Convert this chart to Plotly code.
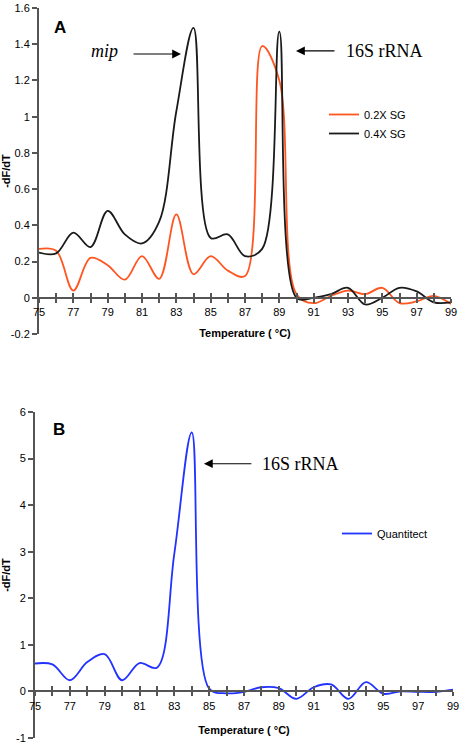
import plotly.graph_objects as go

# ---------------- data ----------------
temps = list(range(75, 100))
sg_02 = [0.27, 0.26, 0.04, 0.22, 0.18, 0.10, 0.23, 0.105, 0.46, 0.13, 0.23, 0.15, 0.12,
         1.39, 1.20, 0.02, -0.03, 0.01, 0.04, 0.02, 0.055, -0.03, -0.02, 0.01, -0.035]
sg_04 = [0.25, 0.245, 0.36, 0.28, 0.48, 0.35, 0.30, 0.42, 1.03, 1.49, 0.33, 0.35, 0.23,
         0.27, 1.47, 0.0, 0.0, 0.02, 0.055, -0.037, 0.0, 0.055, 0.035, -0.025, -0.025]
quantitect = [0.60, 0.58, 0.24, 0.63, 0.80, 0.24, 0.61, 0.51, 2.96, 5.56, 0.06, -0.04, -0.01,
              0.09, 0.07, -0.16, 0.09, 0.15, -0.16, 0.20, -0.05, 0.0, -0.01, -0.01, 0.04]

x_tickvals = list(range(75, 100))
x_ticktext = [str(t) if (t - 75) % 2 == 0 else "" for t in x_tickvals]

a_yvals = [-0.2, 0, 0.2, 0.4, 0.6, 0.8, 1.0, 1.2, 1.4, 1.6]
a_ytext = ["-0.2", "0", "0.2", "0.4", "0.6", "0.8", "1", "1.2", "1.4", "1.6"]
b_yvals = [-1, 0, 1, 2, 3, 4, 5, 6]
b_ytext = ["-1", "0", "1", "2", "3", "4", "5", "6"]

series_names = ["0.2X SG", "0.4X SG", "Quantitect"]

# ---------------- layout geometry ----------------
W, H = 461, 751
A_range = [-0.2, 1.6]
B_range = [-1, 6]
A_xdom = [39 / W, 451 / W]
B_xdom = [35 / W, 453 / W]
A_ydom = [1 - 334 / H, 1 - 8 / H]
B_ydom = [1 - 738 / H, 1 - 412 / H]


def zero_pos(dom, rng):
    return dom[0] + (0 - rng[0]) / (rng[1] - rng[0]) * (dom[1] - dom[0])


AXCOL = "#555555"
FONT = "Liberation Sans, Arial, sans-serif"
SERIF = "Liberation Serif, Times New Roman, serif"

fig = go.Figure()
fig.add_trace(go.Scatter(x=temps, y=sg_02, name=series_names[0], mode="lines",
                         line=dict(color="#FF5520", width=1.8, shape="spline", smoothing=1),
                         xaxis="x", yaxis="y", legend="legend"))
fig.add_trace(go.Scatter(x=temps, y=sg_04, name=series_names[1], mode="lines",
                         line=dict(color="#1a1a1a", width=1.8, shape="spline", smoothing=1),
                         xaxis="x", yaxis="y", legend="legend"))
fig.add_trace(go.Scatter(x=temps, y=quantitect, name=series_names[2], mode="lines",
                         line=dict(color="#2233FF", width=1.8, shape="spline", smoothing=1),
                         xaxis="x2", yaxis="y2", legend="legend2"))

xcommon = dict(range=[75, 99], tickmode="array", tickvals=x_tickvals, showgrid=False,
               zeroline=False, showline=True, linecolor=AXCOL, linewidth=2,
               tickcolor=AXCOL, tickwidth=1.5, ticklen=4, anchor="free",
               tickfont=dict(family=FONT, size=11, color="black"))


def title_x(standoff):
    return dict(text="Temperature ( °C)",
                font=dict(family=FONT, size=11, color="black", weight="bold"),
                standoff=standoff)


ycommon = dict(showgrid=False, zeroline=False, showline=True, linecolor=AXCOL, linewidth=2,
               ticks="outside", tickcolor=AXCOL, tickwidth=1.5, ticklen=5, tickmode="array",
               tickfont=dict(family=FONT, size=11, color="black"))
title_y = dict(text="-dF/dT", font=dict(family=FONT, size=11, color="black", weight="bold"),
               standoff=7)

fig.update_layout(
    width=W, height=H,
    margin=dict(l=0, r=0, t=0, b=0, autoexpand=False),
    paper_bgcolor="white", plot_bgcolor="white",
    showlegend=True,
    xaxis=dict(xcommon, domain=A_xdom, position=zero_pos(A_ydom, A_range),
               ticks="outside", ticktext=x_ticktext, title=title_x(11)),
    xaxis3=dict(xcommon, domain=A_xdom, position=zero_pos(A_ydom, A_range),
                ticks="inside", ticktext=["" for _ in x_tickvals], showticklabels=False,
                overlaying="x", matches="x"),
    xaxis2=dict(xcommon, domain=B_xdom, position=zero_pos(B_ydom, B_range),
                ticks="outside", ticktext=x_ticktext, title=title_x(15)),
    xaxis4=dict(xcommon, domain=B_xdom, position=zero_pos(B_ydom, B_range),
                ticks="inside", ticktext=["" for _ in x_tickvals], showticklabels=False,
                overlaying="x2", matches="x2"),
    yaxis=dict(ycommon, domain=A_ydom, range=A_range, anchor="x", tickvals=a_yvals,
               ticktext=a_ytext, title=title_y),
    yaxis2=dict(ycommon, domain=B_ydom, range=B_range, anchor="x2", tickvals=b_yvals,
                ticktext=b_ytext, title=title_y),
    legend=dict(x=324 / W, y=1 - 100 / H, xanchor="left", yanchor="top",
                bgcolor="rgba(0,0,0,0)", font=dict(family=FONT, size=11, color="black"),
                tracegroupgap=0, itemwidth=30),
    legend2=dict(x=337 / W, y=1 - 519 / H, xanchor="left", yanchor="top",
                 bgcolor="rgba(0,0,0,0)", font=dict(family=FONT, size=11, color="black"),
                 itemwidth=30),
)

# dummy traces to activate overlay axes (crossing tick marks)
fig.add_trace(go.Scatter(x=[75], y=[None], xaxis="x3", yaxis="y", showlegend=False,
                         hoverinfo="skip"))
fig.add_trace(go.Scatter(x=[75], y=[None], xaxis="x4", yaxis="y2", showlegend=False,
                         hoverinfo="skip"))

annos = [
    dict(text="<b>A</b>", x=76.2, y=1.495, xref="x", yref="y", showarrow=False,
         font=dict(family=FONT, size=17, color="black")),
    dict(text="<i>mip</i>", x=78.84, y=1.36, xref="x", yref="y", showarrow=False,
         font=dict(family=SERIF, size=18, color="black")),
    dict(text="", x=83.27, y=1.346, ax=80.42, ay=1.346, xref="x", yref="y", axref="x",
         ayref="y", showarrow=True, arrowhead=2, arrowsize=1.6, arrowwidth=1.1,
         arrowcolor="black"),
    dict(text="16S rRNA", x=95.15, y=1.363, xref="x", yref="y", showarrow=False,
         font=dict(family=SERIF, size=18, color="black")),
    dict(text="", x=89.97, y=1.363, ax=92.3, ay=1.363, xref="x", yref="y", axref="x",
         ayref="y", showarrow=True, arrowhead=2, arrowsize=1.6, arrowwidth=1.1,
         arrowcolor="black"),
    dict(text="<b>B</b>", x=76.4, y=5.62, xref="x2", yref="y2", showarrow=False,
         font=dict(family=FONT, size=17, color="black")),
    dict(text="16S rRNA", x=90.24, y=4.89, xref="x2", yref="y2", showarrow=False,
         font=dict(family=SERIF, size=18, color="black")),
    dict(text="", x=84.7, y=4.89, ax=87.51, ay=4.89, xref="x2", yref="y2", axref="x2",
         ayref="y2", showarrow=True, arrowhead=2, arrowsize=1.6, arrowwidth=1.1,
         arrowcolor="black"),
]
fig.update_layout(annotations=annos)

fig.write_html("out.html",
               config={"displayModeBar": False},
               post_script="document.body.style.margin='0';document.body.style.padding='0';"
                           "document.documentElement.style.overflow='hidden';")
